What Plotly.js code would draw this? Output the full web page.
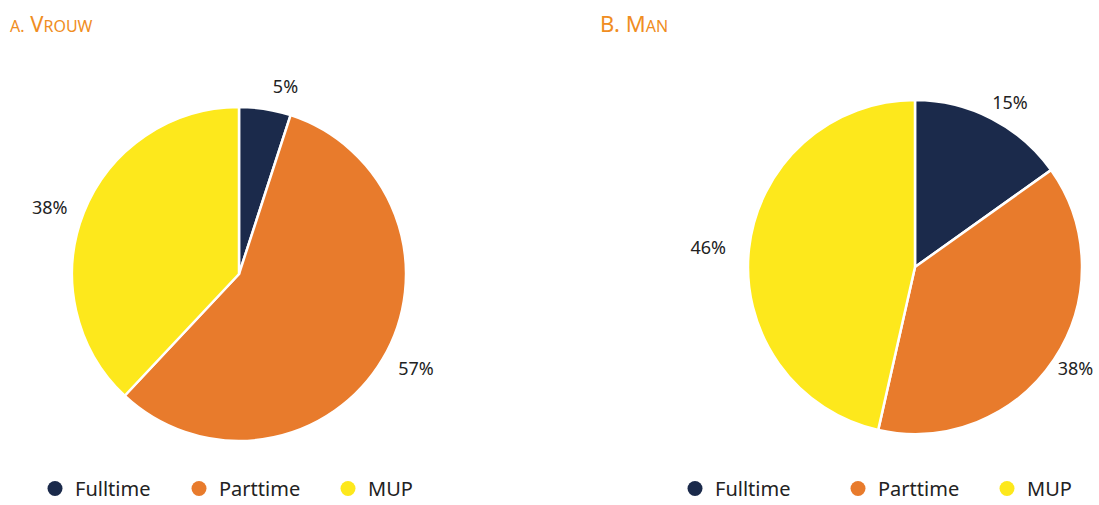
<!DOCTYPE html>
<html>
<head>
<meta charset="utf-8">
<script src="https://cdn.plot.ly/plotly-3.0.1.min.js"></script>
<style>
  html, body { margin: 0; padding: 0; background: #fff; }
  #grafico { width: 1099px; height: 505px; }
</style>
</head>
<body>
<div id="grafico"></div>
<script>
// categorieen en waarden
let categorieen = ["Fulltime", "Parttime", "MUP"]
let vrouw = [5, 57, 38]
let man = [15, 38, 46]
let kleuren = ["#1b2a4b", "#e87b2c", "#fde81c"]

let graf = document.getElementById("grafico")

let W = 1099, H = 505
let fonte = "Noto Sans, Open Sans, sans-serif"

// domein van een taart rond middelpunt (cx, cy) in pixels met straal r
function domein(cx, cy, r) {
    return {
        x: [(cx - r) / W, (cx + r) / W],
        y: [1 - (cy + r) / H, 1 - (cy - r) / H]
    }
}

// zichtbare taart, zonder tekst
function taart(waarden, cx, cy) {
    return {
        type: "pie",
        labels: categorieen,
        values: waarden,
        sort: false,
        direction: "clockwise",
        rotation: 0,
        domain: domein(cx, cy, 167),
        marker: {colors: kleuren, line: {color: "#ffffff", width: 2.5}},
        textinfo: "none",
        showlegend: false,
        hoverinfo: "label+value"
    }
}

// onzichtbare grotere taart die alleen de percentages iets verder naar buiten zet
function etiket(waarden, cx, cy, r) {
    return {
        type: "pie",
        labels: categorieen,
        values: waarden,
        sort: false,
        direction: "clockwise",
        rotation: 0,
        domain: domein(cx, cy, r),
        marker: {colors: ["rgba(0,0,0,0)", "rgba(0,0,0,0)", "rgba(0,0,0,0)"], line: {width: 0}},
        texttemplate: "%{value}%",
        textposition: "outside",
        outsidetextfont: {family: fonte, size: 18, color: "#222222"},
        showlegend: false,
        hoverinfo: "skip"
    }
}

let data = [
    etiket(vrouw, 239, 274, 178),
    etiket(man, 906, 267, 175),
    taart(vrouw, 239, 274),
    taart(man, 915, 267)
]

// legenda: elk item in een eigen legend zodat de afstanden kloppen
let legX = [35, 179, 328, 675, 838, 987]
let layout = {
    width: W,
    height: H,
    margin: {l: 0, r: 0, t: 0, b: 0, autoexpand: false},
    paper_bgcolor: "#ffffff",
    plot_bgcolor: "#ffffff",
    xaxis: {visible: false, domain: [0, 0.01]},
    yaxis: {visible: false, domain: [0, 0.01]}
}

for (let i = 0; i < 6; i++) {
    let naam = i == 0 ? "legend" : "legend" + (i + 1)
    let k = i % 3
    data.push({
        type: "scatter", mode: "markers", x: [null], y: [null],
        name: categorieen[k], legend: naam,
        marker: {color: kleuren[k], size: 15, symbol: "circle"},
        hoverinfo: "skip"
    })
    layout[naam] = {
        orientation: "h",
        x: legX[i] / W,
        xanchor: "left",
        y: -3 / H,
        yanchor: "bottom",
        font: {family: fonte, size: 20, color: "#222222"},
        bgcolor: "rgba(0,0,0,0)"
    }
}

layout.annotations = [
    {
        text: '<span style="font-size:16px">A.</span> V<span style="font-size:16px">ROUW</span>',
        x: 8, y: 23
    },
    {
        text: 'B. M<span style="font-size:16px">AN</span>',
        x: 598, y: 23
    }
].map(a => Object.assign(a, {
    xref: "paper", yref: "paper",
    x: a.x / W, y: 1 - a.y / H,
    xanchor: "left", yanchor: "middle",
    showarrow: false,
    font: {family: fonte, size: 22, color: "#f08d22"}
}))

Plotly.newPlot(graf, data, layout, {displayModeBar: false})
</script>
</body>
</html>
